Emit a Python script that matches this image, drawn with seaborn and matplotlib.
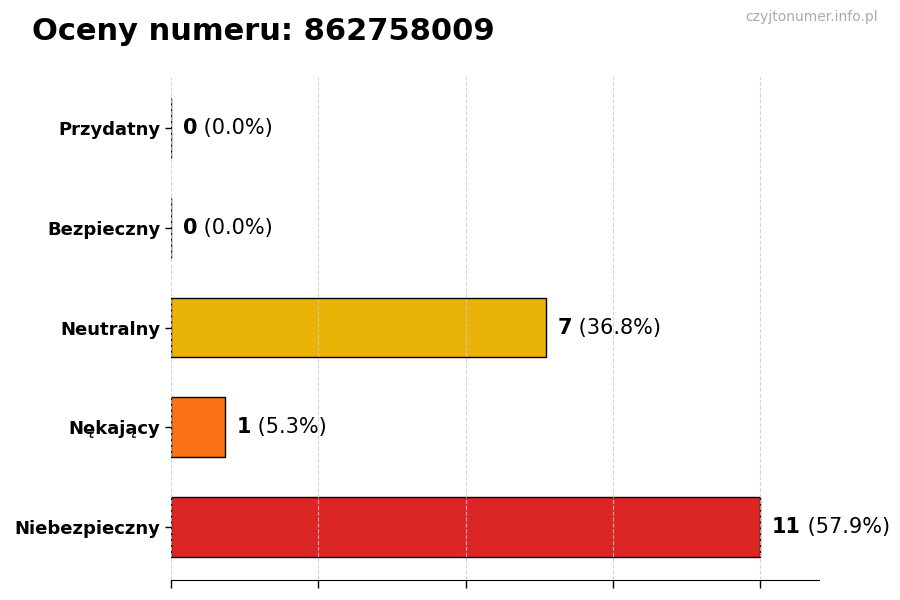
import matplotlib
matplotlib.use("Agg")
import matplotlib.pyplot as plt
import seaborn as sns
import pandas as pd
import numpy as np

categories = ["Przydatny", "Bezpieczny", "Neutralny", "Nękający", "Niebezpieczny"]
counts = [0, 0, 7, 1, 11]
colors = ["#16A34A", "#22C55E", "#EAB308", "#F97316", "#DC2626"]
title = "Oceny numeru: 862758009"
watermark = "czyjtonumer.info.pl"

total = sum(counts)
df = pd.DataFrame({"cat": categories, "n": counts})

sns.set_style("white")
plt.rcParams['font.family'] = ['DejaVu Sans']
plt.rcParams['text.color'] = 'black'
plt.rcParams['xtick.color'] = 'black'
plt.rcParams['ytick.color'] = 'black'
plt.rcParams['axes.labelcolor'] = 'black'

fig = plt.figure(figsize=(9, 6), dpi=100)
ax = fig.add_axes([0.19, 0.033, 0.72, 0.839])

sns.barplot(data=df, y="cat", x="n", hue="cat", palette=colors, order=categories,
            hue_order=categories, orient="h", width=0.6, edgecolor="black",
            linewidth=1, legend=False, ax=ax, saturation=1)

mx = max(counts)
ax.set_xlim(0, mx * 1.1)
ax.set_ylim(len(categories) - 1 + 0.53, -0.51)
ax.set_xticks(np.linspace(0, mx, 5))
ax.tick_params(axis="x", bottom=True, labelbottom=False, length=6, width=1, color="black")
ax.tick_params(axis="y", left=True, length=4, width=1, color="black", labelcolor="black")
ax.grid(axis="x", linestyle="--", color="#cccccc", linewidth=0.8, alpha=0.8)
ax.set_axisbelow(False)
ax.set_xlabel("")
ax.set_ylabel("")
for s in ["top", "right", "left"]:
    ax.spines[s].set_visible(False)
ax.spines["bottom"].set_color("black")
for lbl in ax.get_yticklabels():
    lbl.set_fontweight("bold")
    lbl.set_fontsize(13)
    lbl.set_color("black")

off = mx * 0.02
for i, v in enumerate(counts):
    pct = 100 * v / total if total else 0
    t = ax.text(v + off, i, str(v), fontsize=15, fontweight="bold", va="center", ha="left", color="black")
    ax.annotate(f" ({pct:.1f}%)", xy=(1, 0.5), xycoords=t, va="center", ha="left", fontsize=15, color="black")

fig.text(0.035, 0.947, title, fontsize=22, fontweight="bold", va="center", ha="left", color="black")
fig.text(0.975, 0.972, watermark, fontsize=10, color="#aaaaaa", va="center", ha="right")

fig.savefig("out.png", dpi=100)
